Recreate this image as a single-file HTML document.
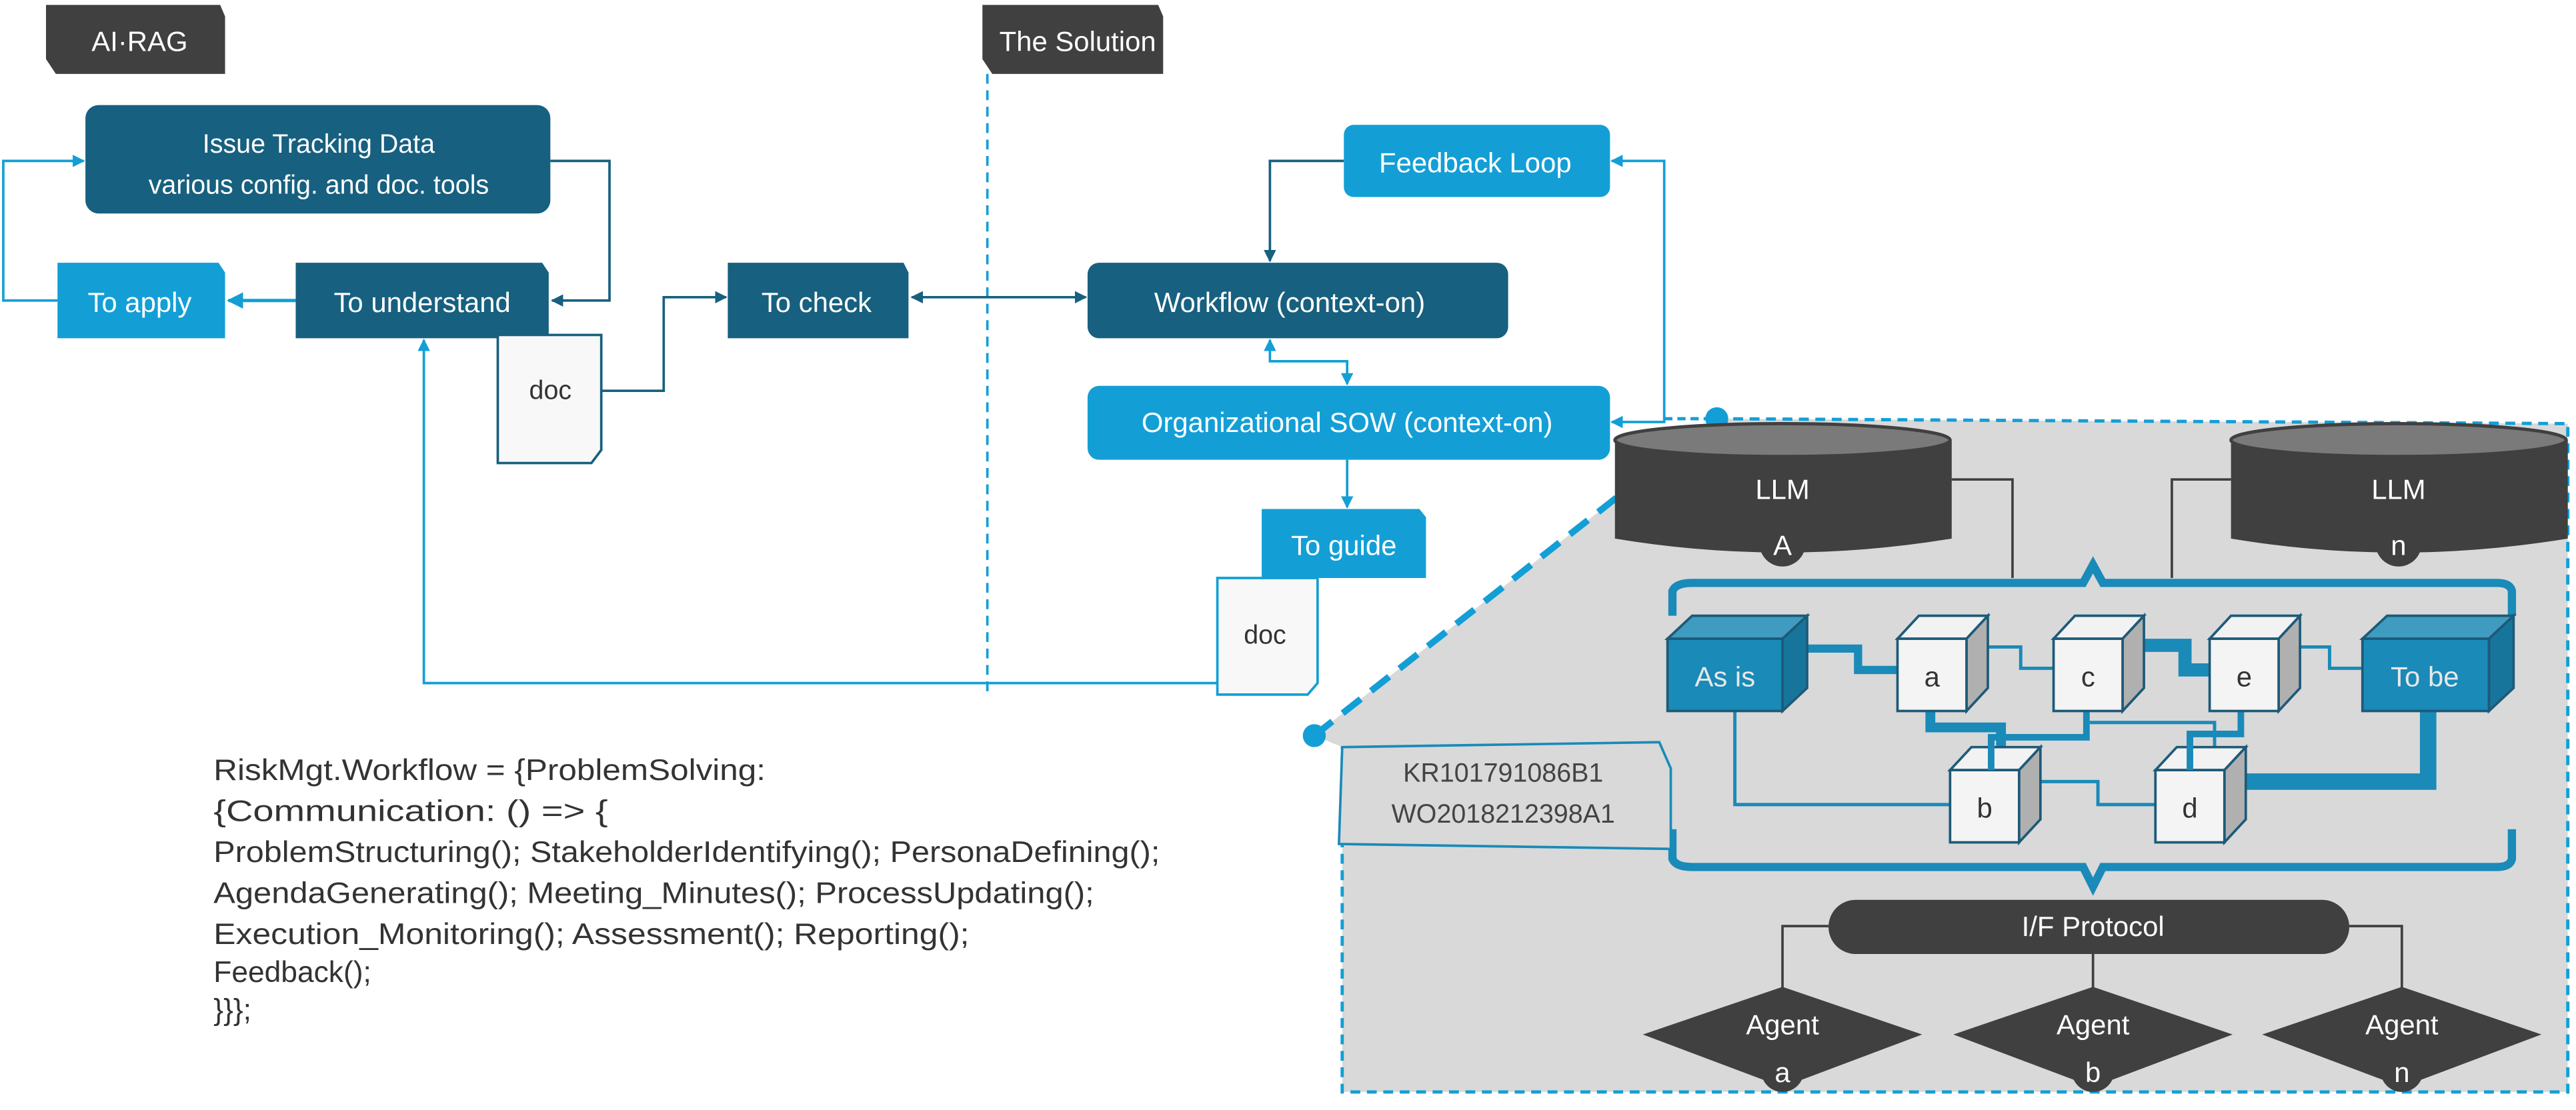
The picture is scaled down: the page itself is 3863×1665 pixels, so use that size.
<!DOCTYPE html>
<html><head><meta charset="utf-8"><style>
html,body{margin:0;padding:0;background:#fff;}
svg{display:block;}
text{font-family:"Liberation Sans",sans-serif;}
</style></head><body>
<svg width="3863" height="1665" viewBox="0 0 1568 676" preserveAspectRatio="none" xmlns="http://www.w3.org/2000/svg">
<defs>
<marker id="ad" viewBox="0 0 10 10" refX="9" refY="5" markerWidth="5" markerHeight="5" orient="auto-start-reverse"><path d="M0,0 L10,5 L0,10 Z" fill="#17607f"/></marker>
<marker id="al" viewBox="0 0 10 10" refX="9" refY="5" markerWidth="5" markerHeight="5" orient="auto-start-reverse"><path d="M0,0 L10,5 L0,10 Z" fill="#139fd6"/></marker>
</defs>
<rect width="1568" height="676" fill="#fff"/>

<!-- gray region -->
<polygon points="800,448 1045,255 1563,258 1563,665 817,665 817,455" fill="#d9d9d9"/>
<path d="M1045,255 L1563,258 L1563,665 L817,665 L817,455" fill="none" stroke="#139fd6" stroke-width="2" stroke-dasharray="6,4"/>
<line x1="800" y1="448" x2="1045" y2="255" stroke="#139fd6" stroke-width="4" stroke-dasharray="14,8"/>
<circle cx="800" cy="448" r="7" fill="#139fd6"/>
<circle cx="1045" cy="255" r="7" fill="#139fd6"/>

<!-- tabs -->
<polygon points="28,3 134,3 137,10 137,45 34,45 28,36" fill="#404040"/>
<text x="85" y="31" fill="#fff" font-size="17" text-anchor="middle">AI·RAG</text>
<polygon points="598,3 705,3 708,10 708,45 604,45 598,36" fill="#404040"/>
<text x="656" y="31" fill="#fff" font-size="17" text-anchor="middle">The Solution</text>
<line x1="601" y1="45" x2="601" y2="425" stroke="#139fd6" stroke-width="1.5" stroke-dasharray="6,4"/>

<!-- connectors left -->
<path d="M335,98 H371 V183 H336" fill="none" stroke="#17607f" stroke-width="1.5" marker-end="url(#ad)"/>
<path d="M35,183 H2 V98 H51" fill="none" stroke="#139fd6" stroke-width="1.5" marker-end="url(#al)"/>
<path d="M180,183 H139" fill="none" stroke="#139fd6" stroke-width="2" marker-end="url(#al)"/>
<path d="M366,238 H404 V181 H442" fill="none" stroke="#17607f" stroke-width="1.5" marker-end="url(#ad)"/>
<path d="M555,181 H661" fill="none" stroke="#17607f" stroke-width="1.5" marker-start="url(#ad)" marker-end="url(#ad)"/>
<path d="M741,416 H258 V207" fill="none" stroke="#139fd6" stroke-width="1.5" marker-end="url(#al)"/>
<path d="M818,98 H773 V159" fill="none" stroke="#17607f" stroke-width="1.5" marker-end="url(#ad)"/>
<path d="M773,207 V220 H820 V234" fill="none" stroke="#139fd6" stroke-width="1.5" marker-start="url(#al)" marker-end="url(#al)"/>
<path d="M820,280 V309" fill="none" stroke="#139fd6" stroke-width="1.5" marker-end="url(#al)"/>
<path d="M981,98 H1013 V257 H981" fill="none" stroke="#139fd6" stroke-width="1.5" marker-start="url(#al)" marker-end="url(#al)"/>
<line x1="1013" y1="255" x2="1045" y2="255" stroke="#139fd6" stroke-width="2" stroke-dasharray="5,3"/>

<!-- boxes -->
<rect x="52" y="64" width="283" height="66" rx="8" fill="#17607f"/>
<text x="194" y="93" fill="#fff" font-size="16" text-anchor="middle">Issue Tracking Data</text>
<text x="194" y="118" fill="#fff" font-size="16" text-anchor="middle">various config. and doc. tools</text>
<polygon points="35,160 133,160 137,166 137,206 35,206" fill="#139fd6"/>
<text x="85" y="190" fill="#fff" font-size="17" text-anchor="middle">To apply</text>
<polygon points="180,160 330,160 334,166 334,206 180,206" fill="#17607f"/>
<text x="257" y="190" fill="#fff" font-size="17" text-anchor="middle">To understand</text>
<polygon points="303,204 366,204 366,274 360,282 303,282" fill="#f8f8f8" stroke="#17607f" stroke-width="1.5"/>
<text x="335" y="243" fill="#333" font-size="16" text-anchor="middle">doc</text>
<polygon points="443,160 550,160 553,166 553,206 443,206" fill="#17607f"/>
<text x="497" y="190" fill="#fff" font-size="17" text-anchor="middle">To check</text>
<rect x="662" y="160" width="256" height="46" rx="7" fill="#17607f"/>
<text x="785" y="190" fill="#fff" font-size="17" text-anchor="middle">Workflow (context-on)</text>
<rect x="818" y="76" width="162" height="44" rx="6" fill="#139fd6"/>
<text x="898" y="105" fill="#fff" font-size="17" text-anchor="middle">Feedback Loop</text>
<rect x="662" y="235" width="318" height="45" rx="7" fill="#139fd6"/>
<text x="820" y="263" fill="#fff" font-size="17" text-anchor="middle">Organizational SOW (context-on)</text>
<polygon points="768,310 864,310 868,315 868,352 768,352" fill="#139fd6"/>
<text x="818" y="338" fill="#fff" font-size="17" text-anchor="middle">To guide</text>
<polygon points="741,352 802,352 802,416 796,423 741,423" fill="#f8f8f8" stroke="#139fd6" stroke-width="1.5"/>
<text x="770" y="392" fill="#333" font-size="16" text-anchor="middle">doc</text>

<!-- code -->
<g fill="#333" font-size="18">
<text x="130" y="475" textLength="336" lengthAdjust="spacingAndGlyphs">RiskMgt.Workflow = {ProblemSolving:</text>
<text x="130" y="500" textLength="240" lengthAdjust="spacingAndGlyphs">{Communication: () => {</text>
<text x="130" y="525" textLength="576" lengthAdjust="spacingAndGlyphs">ProblemStructuring(); StakeholderIdentifying(); PersonaDefining();</text>
<text x="130" y="550" textLength="536" lengthAdjust="spacingAndGlyphs">AgendaGenerating(); Meeting_Minutes(); ProcessUpdating();</text>
<text x="130" y="575" textLength="460" lengthAdjust="spacingAndGlyphs">Execution_Monitoring(); Assessment(); Reporting();</text>
<text x="130" y="598">Feedback();</text>
<text x="130" y="621">}}};</text>
</g>

<!-- LLM cylinders -->
<path d="M1188,292 H1225 V352" fill="none" stroke="#404040" stroke-width="1.5"/>
<path d="M1358,292 H1322 V352" fill="none" stroke="#404040" stroke-width="1.5"/>
<g>
<path d="M983,268 V328 Q1085,345 1188,328 V268 Z" fill="#404040"/>
<ellipse cx="1085" cy="268" rx="102" ry="10" fill="#7a7a7a" stroke="#404040" stroke-width="2"/>
<circle cx="1085" cy="331" r="14" fill="#404040"/>
<text x="1085" y="304" fill="#fff" font-size="17" text-anchor="middle">LLM</text>
<text x="1085" y="338" fill="#fff" font-size="17" text-anchor="middle">A</text>
</g>
<g>
<path d="M1358,268 V328 Q1460,345 1563,328 V268 Z" fill="#404040"/>
<ellipse cx="1460" cy="268" rx="102" ry="10" fill="#7a7a7a" stroke="#404040" stroke-width="2"/>
<circle cx="1460" cy="331" r="14" fill="#404040"/>
<text x="1460" y="304" fill="#fff" font-size="17" text-anchor="middle">LLM</text>
<text x="1460" y="338" fill="#fff" font-size="17" text-anchor="middle">n</text>
</g>

<!-- braces -->
<path d="M1018,375 V360 Q1020,355 1030,355 H1268 L1274,344 L1280,355 H1520 Q1528,355 1529,360 V375" fill="none" stroke="#1a8ab8" stroke-width="5"/>
<path d="M1018,505 V523 Q1020,528 1030,528 H1268 L1274,540 L1280,528 H1520 Q1528,528 1529,523 V505" fill="none" stroke="#1a8ab8" stroke-width="5"/>

<!-- patent box -->
<polygon points="817,455 1010,452 1017,468 1017,517 815,514" fill="#d9d9d9" stroke="#1a8ab8" stroke-width="1.5"/>
<text x="915" y="476" fill="#444" font-size="16" text-anchor="middle">KR101791086B1</text>
<text x="915" y="501" fill="#444" font-size="16" text-anchor="middle">WO2018212398A1</text>

<!-- cube connectors -->
<g fill="none" stroke="#1a8ab8">
<path d="M1100,395 H1131 V408 H1156" stroke-width="5"/>
<path d="M1210,394 H1230 V407 H1250" stroke-width="2"/>
<path d="M1305,393 H1330 V408 H1345" stroke-width="8"/>
<path d="M1400,394 H1418 V407 H1438" stroke-width="2"/>
<path d="M1175,432 V443 H1218 V462" stroke-width="6"/>
<path d="M1270,432 V449 H1212 V467" stroke-width="4"/>
<path d="M1272,440 H1348 V456" stroke-width="2"/>
<path d="M1364,432 V447 H1333 V468" stroke-width="4"/>
<path d="M1056,432 V490 H1187" stroke-width="2"/>
<path d="M1242,476 H1277 V490 H1312" stroke-width="2"/>
<path d="M1478,432 V476 H1367" stroke-width="10"/>
</g>

<!-- cubes -->
<g stroke="#1d5a78" stroke-width="1.5">
<polygon points="1015,389 1030,375 1100,375 1085,389" fill="#3f9bc0"/>
<polygon points="1085,389 1100,375 1100,419 1085,433" fill="#17759c"/>
<rect x="1015" y="389" width="70" height="44" fill="#1a8ab8"/>
<polygon points="1155,389 1168,375 1210,375 1197,389" fill="#f2f2f2"/>
<polygon points="1197,389 1210,375 1210,419 1197,433" fill="#b0b0b0"/>
<rect x="1155" y="389" width="42" height="44" fill="#f4f4f4"/>
<polygon points="1250,389 1263,375 1305,375 1292,389" fill="#f2f2f2"/>
<polygon points="1292,389 1305,375 1305,419 1292,433" fill="#b0b0b0"/>
<rect x="1250" y="389" width="42" height="44" fill="#f4f4f4"/>
<polygon points="1345,389 1358,375 1400,375 1387,389" fill="#f2f2f2"/>
<polygon points="1387,389 1400,375 1400,419 1387,433" fill="#b0b0b0"/>
<rect x="1345" y="389" width="42" height="44" fill="#f4f4f4"/>
<polygon points="1438,389 1453,375 1530,375 1515,389" fill="#3f9bc0"/>
<polygon points="1515,389 1530,375 1530,419 1515,433" fill="#17759c"/>
<rect x="1438" y="389" width="77" height="44" fill="#1a8ab8"/>
<polygon points="1187,469 1200,455 1242,455 1229,469" fill="#f2f2f2"/>
<polygon points="1229,469 1242,455 1242,499 1229,513" fill="#b0b0b0"/>
<rect x="1187" y="469" width="42" height="44" fill="#f4f4f4"/>
<polygon points="1312,469 1325,455 1367,455 1354,469" fill="#f2f2f2"/>
<polygon points="1354,469 1367,455 1367,499 1354,513" fill="#b0b0b0"/>
<rect x="1312" y="469" width="42" height="44" fill="#f4f4f4"/>
</g>
<g fill="none" stroke="#1a8ab8">
<path d="M1212,449 V469" stroke-width="4"/>
<path d="M1333,447 V469" stroke-width="4"/>
</g>
<g font-size="17" text-anchor="middle">
<text x="1050" y="418" fill="#e8e8e8">As is</text>
<text x="1476" y="418" fill="#e8e8e8">To be</text>
<text x="1176" y="418" fill="#333">a</text>
<text x="1271" y="418" fill="#333">c</text>
<text x="1366" y="418" fill="#333">e</text>
<text x="1208" y="498" fill="#333">b</text>
<text x="1333" y="498" fill="#333">d</text>
</g>

<!-- I/F protocol -->
<path d="M1113,564 H1085 V602" fill="none" stroke="#404040" stroke-width="1.5"/>
<path d="M1430,564 H1462 V602" fill="none" stroke="#404040" stroke-width="1.5"/>
<path d="M1274,580 V602" fill="none" stroke="#404040" stroke-width="1.5"/>
<rect x="1113" y="548" width="317" height="33" rx="16.5" fill="#404040"/>
<text x="1274" y="570" fill="#fff" font-size="17" text-anchor="middle">I/F Protocol</text>

<!-- agents -->
<g fill="#404040">
<polygon points="1000,630 1085,601 1170,630 1085,662"/>
<circle cx="1085" cy="652" r="13"/>
<polygon points="1189,630 1274,601 1359,630 1274,662"/>
<circle cx="1274" cy="652" r="13"/>
<polygon points="1377,630 1462,601 1547,630 1462,662"/>
<circle cx="1462" cy="652" r="13"/>
</g>
<g fill="#fff" font-size="17" text-anchor="middle">
<text x="1085" y="630">Agent</text><text x="1085" y="659">a</text>
<text x="1274" y="630">Agent</text><text x="1274" y="659">b</text>
<text x="1462" y="630">Agent</text><text x="1462" y="659">n</text>
</g>
</svg>
</body></html>
